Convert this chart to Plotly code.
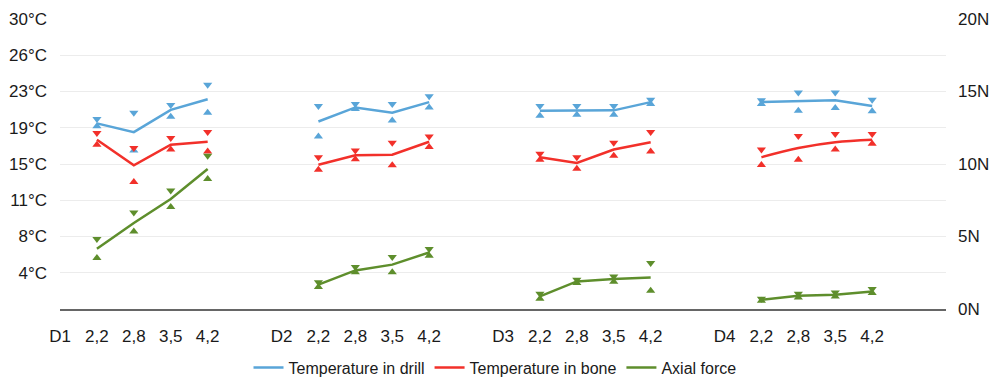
import plotly.graph_objects as go

# ---- data ----
groups = ["D1", "D2", "D3", "D4"]
speeds = ["2,2", "2,8", "3,5", "4,2"]

drill_mean = [[19.2, 18.3, 20.6, 21.7], [19.4, 20.85, 20.3, 21.4], [20.5, 20.5, 20.55, 21.4], [21.4, 21.5, 21.6, 21.0]]
drill_max = [[19.65, 20.3, 21.1, 23.2], [21.0, 21.2, 21.2, 22.0], [21.0, 21.0, 21.0, 21.65], [21.6, 22.4, 22.4, 21.65]]
drill_min = [[18.9, 16.4, 19.9, 20.3], [17.85, 20.7, 19.5, 20.85], [20.0, 20.1, 20.1, 21.2], [21.2, 20.5, 20.8, 20.45]]

bone_mean = [[17.5, 14.86, 17.0, 17.3], [14.93, 15.9, 15.96, 17.3], [15.7, 15.1, 16.5, 17.25], [15.7, 16.65, 17.25, 17.5]]
bone_max = [[18.2, 16.65, 17.7, 18.3], [15.7, 16.4, 17.2, 17.85], [16.07, 15.7, 17.2, 18.3], [16.5, 17.9, 18.1, 18.1]]
bone_min = [[17.0, 13.15, 16.5, 16.3], [14.4, 15.5, 14.86, 16.75], [15.45, 14.5, 15.86, 16.3], [14.9, 15.45, 16.5, 17.1]]

force_mean = [[4.16, 5.93, 7.59, 9.66], [1.68, 2.66, 3.06, 3.9], [0.87, 1.9, 2.07, 2.18], [0.64, 0.92, 0.99, 1.21]]
force_max = [[4.83, 6.66, 8.18, 10.57], [1.84, 2.9, 3.59, 4.14], [1.05, 2.02, 2.25, 3.17], [0.71, 1.05, 1.14, 1.38]]
force_min = [[3.52, 5.35, 7.03, 8.97], [1.52, 2.53, 2.53, 3.68], [0.71, 1.79, 1.88, 1.26], [0.57, 0.8, 0.87, 1.1]]

temp_tick_values = [3.75, 7.5, 11.25, 15, 18.75, 22.5, 26.25, 30]
temp_tick_labels = ["4°C", "8°C", "11°C", "15°C", "19°C", "23°C", "26°C", "30°C"]
force_tick_values = [0, 5, 10, 15, 20]
force_tick_labels = ["0N", "5N", "10N", "15N", "20N"]

series = [
    ("Temperature in drill", "#59a5d8", drill_mean, drill_max, drill_min, "y"),
    ("Temperature in bone", "#f2302a", bone_mean, bone_max, bone_min, "y"),
    ("Axial force", "#5e8e2c", force_mean, force_max, force_min, "y2"),
]

# category positions: each group label, then 4 speeds, then one empty slot
slot = 6
tickvals, ticktext = [], []
for g, name in enumerate(groups):
    tickvals.append(g * slot)
    ticktext.append(name)
    for s, sp in enumerate(speeds):
        tickvals.append(g * slot + s + 1)
        ticktext.append(sp)

fig = go.Figure()
for name, color, mean, mx, mn, yax in series:
    for g in range(len(groups)):
        xs = [g * slot + s + 1 for s in range(len(speeds))]
        shape = "spline" if (name == "Temperature in bone" and g == 3) else "linear"
        fig.add_trace(go.Scatter(
            x=xs, y=mean[g], mode="lines", name=name, legendgroup=name,
            showlegend=(g == 0), line=dict(color=color, width=2.5, shape=shape),
            yaxis=yax, hoverinfo="skip"))
        fig.add_trace(go.Scatter(
            x=xs, y=mx[g], mode="markers", legendgroup=name, showlegend=False,
            marker=dict(symbol="triangle-down", size=8, color=color), yaxis=yax))
        fig.add_trace(go.Scatter(
            x=xs, y=mn[g], mode="markers", legendgroup=name, showlegend=False,
            marker=dict(symbol="triangle-up", size=8, color=color), yaxis=yax))

font_family = "Liberation Sans, Arial, sans-serif"
fig.update_layout(
    width=990, height=377,
    margin=dict(l=60, r=44, t=19, b=68, autoexpand=False),
    paper_bgcolor="white", plot_bgcolor="white",
    font=dict(family=font_family, size=17, color="#1a1a1a"),
    showlegend=True,
    legend=dict(orientation="h", xref="container", yref="container",
                x=0.5, xanchor="center", y=0.025, yanchor="middle",
                font=dict(size=16), itemwidth=30, tracegroupgap=0),
    xaxis=dict(range=[0, 24], tickvals=tickvals, ticktext=ticktext,
               showgrid=False, zeroline=False, showline=True,
               linecolor="#666666", linewidth=1.5, ticks="",
               ticklabelstandoff=11, fixedrange=True, automargin=False),
    yaxis=dict(range=[0, 30], tickvals=temp_tick_values, ticktext=temp_tick_labels,
               showgrid=True, gridcolor="#ececec", gridwidth=1, zeroline=False,
               showline=False, ticks="", ticklabelstandoff=12, automargin=False),
    yaxis2=dict(range=[0, 20], tickvals=force_tick_values, ticktext=force_tick_labels,
                overlaying="y", side="right", showgrid=False, zeroline=False,
                showline=False, ticks="", ticklabelstandoff=11, automargin=False),
)

fig.write_html("out.html", config={"displayModeBar": False},
               post_script="document.body.style.margin='0px';")
